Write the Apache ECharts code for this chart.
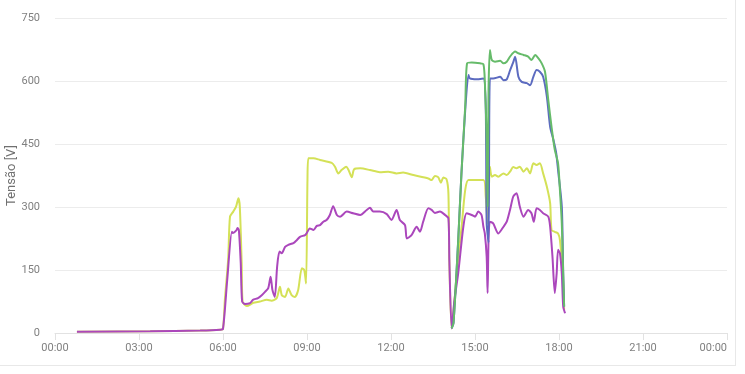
<!DOCTYPE html>
<html>
<head>
<meta charset="utf-8">
<script src="https://cdn.jsdelivr.net/npm/echarts@6/dist/echarts.min.js"></script>
<style>
html,body{margin:0;padding:0;background:#fff;}
#chart{position:absolute;left:0;top:0;width:745px;height:374px;}
#card{position:absolute;left:0;top:0;width:735px;height:365px;border-right:1px solid #e8e8e8;border-bottom:1px solid #e8e8e8;pointer-events:none;}
</style>
</head>
<body>
<div id="chart"></div>
<div id="card"></div>
<script>
// Tick labels
const xTickLabels = ["00:00","03:00","06:00","09:00","12:00","15:00","18:00","21:00","00:00"];
const yTicks = [0,150,300,450,600,750];

// Purple series
const purpleTimes = ["00:47","03:24","05:11","05:54","06:00","06:09","06:19","06:21","06:29","06:31","06:34","06:38","06:41","06:47","06:58","07:04","07:15","07:23","07:30","07:37","07:42","07:46","07:51","07:56","08:01","08:06","08:13","08:20","08:31","08:38","08:45","08:56","08:59","09:06","09:14","09:21","09:28","09:35","09:42","09:49","09:56","10:04","10:11","10:25","10:39","10:54","11:08","11:15","11:22","11:36","11:51","12:01","12:12","12:19","12:30","12:34","12:44","12:55","13:02","13:09","13:20","13:27","13:34","13:45","13:56","14:03","14:05","14:10","14:16","14:24","14:35","14:42","14:53","15:00","15:07","15:14","15:18","15:21","15:25","15:27","15:29","15:32","15:39","15:50","16:01","16:08","16:15","16:22","16:29","16:36","16:44","16:54","17:01","17:06","17:12","17:19","17:26","17:37","17:41","17:46","17:51","17:55","17:58","18:02","18:06","18:09","18:13"];
const purpleValues = [3,4,6,8,10,126,241,238,245,250,245,167,75,69,71,79,83,90,98,107,134,102,86,158,194,190,205,210,214,221,229,233,237,249,245,255,257,265,269,281,302,281,277,289,285,281,293,298,289,289,283,269,293,269,257,225,233,253,241,265,297,293,286,289,281,273,174,11,79,142,253,285,281,277,289,281,253,237,182,95,221,265,261,237,253,265,293,325,333,301,277,293,285,265,297,293,285,277,253,182,95,142,198,190,142,63,47];

// Yellow-green series
const limeTimes = ["00:47","03:24","05:11","05:54","06:00","06:04","06:11","06:15","06:22","06:28","06:33","06:36","06:40","06:42","06:51","07:05","07:19","07:34","07:44","07:55","08:02","08:06","08:13","08:20","08:27","08:34","08:41","08:49","08:54","08:58","09:01","09:03","09:14","09:28","09:53","10:00","10:07","10:14","10:24","10:29","10:36","10:41","10:54","11:15","11:36","11:54","12:12","12:26","12:48","13:20","13:27","13:34","13:41","13:47","13:52","13:59","14:03","14:05","14:10","14:21","14:32","14:39","14:46","15:18","15:23","15:27","15:32","15:36","15:43","15:50","16:01","16:08","16:15","16:22","16:29","16:36","16:44","16:51","16:58","17:05","17:12","17:19","17:26","17:34","17:41","17:44","17:51","17:58","18:02","18:08","18:11"];
const limeValues = [3,4,6,8,10,79,174,277,289,301,321,301,167,75,64,72,75,79,77,83,110,90,86,106,90,86,102,154,150,118,364,416,416,412,405,396,380,388,396,388,371,390,392,388,383,384,380,382,376,368,364,374,371,358,370,366,333,174,11,142,261,340,364,364,325,261,396,372,376,372,380,376,384,395,392,396,384,392,380,404,400,404,380,348,309,245,241,237,221,142,55];

// Blue series
const blueTimes = ["14:10","14:14","14:24","14:31","14:39","14:46","14:49","15:04","15:18","15:23","15:25","15:29","15:32","15:39","15:54","16:01","16:08","16:15","16:22","16:26","16:33","16:40","16:51","16:58","17:05","17:12","17:19","17:26","17:34","17:41","17:48","17:54","17:58","18:06","18:09","18:11"];
const blueValues = [11,24,221,381,530,614,606,604,606,539,262,215,606,606,610,602,604,625,645,658,610,598,595,590,610,626,622,610,563,491,460,428,388,301,142,63];

// Green series
const greenTimes = ["14:10","14:14","14:24","14:31","14:39","14:43","14:53","15:11","15:18","15:21","15:25","15:27","15:29","15:32","15:36","15:43","15:54","16:01","16:08","16:15","16:26","16:33","16:44","16:54","17:01","17:09","17:16","17:23","17:30","17:37","17:44","17:51","17:58","18:02","18:06","18:09","18:11"];
const greenValues = [11,24,221,381,539,642,644,642,640,602,460,301,579,674,650,646,648,642,646,658,670,666,662,658,650,662,654,642,622,555,491,436,404,340,261,142,63];

function toMin(s){const p=s.split(":");return (+p[0])*60+(+p[1]);}
function pairs(t,v){return t.map((s,i)=>[toMin(s),v[i]]);}

const chart = echarts.init(document.getElementById('chart'), null, {renderer:'canvas'});
const lineBase = {type:'line', showSymbol:false, smooth:0.25, lineStyle:{width:2}, z:2};
chart.setOption({
  animation:false,
  backgroundColor:'transparent',
  grid:{left:55,right:18,top:18,bottom:41,containLabel:false,outerBoundsMode:'none'},
  xAxis:{
    type:'value', min:0, max:1440, interval:180,
    axisLine:{show:true,lineStyle:{color:'#e2e2e2'}},
    axisTick:{show:true,length:7,lineStyle:{color:'#e2e2e2'}},
    splitLine:{show:false},
    axisLabel:{color:'#808080',fontFamily:'Roboto',fontSize:11,margin:10,
      alignMaxLabel:'right',
      formatter:function(v){return xTickLabels[Math.round(v/180)];}}
  },
  yAxis:{
    type:'value', min:yTicks[0], max:yTicks[yTicks.length-1], interval:150,
    name:'Tensão [V]', nameLocation:'middle', nameGap:37, nameMoveOverlap:false,
    nameTextStyle:{color:'#707070',fontFamily:'Roboto',fontSize:13},
    axisLine:{show:false}, axisTick:{show:false},
    splitLine:{lineStyle:{color:'#ececec'}},
    axisLabel:{color:'#808080',fontFamily:'Roboto',fontSize:11,margin:15}
  },
  series:[
    Object.assign({},lineBase,{name:'lime',data:pairs(limeTimes,limeValues),itemStyle:{color:'#d4e157'},lineStyle:{width:2,color:'#d4e157'}}),
    Object.assign({},lineBase,{name:'purple',data:pairs(purpleTimes,purpleValues),itemStyle:{color:'#ab47bc'},lineStyle:{width:2,color:'#ab47bc'}}),
    Object.assign({},lineBase,{name:'blue',data:pairs(blueTimes,blueValues),itemStyle:{color:'#5c6bc0'},lineStyle:{width:2,color:'#5c6bc0'}}),
    Object.assign({},lineBase,{name:'green',data:pairs(greenTimes,greenValues),itemStyle:{color:'#66bb6a'},lineStyle:{width:2,color:'#66bb6a'}})
  ]
});
</script>
</body>
</html>
